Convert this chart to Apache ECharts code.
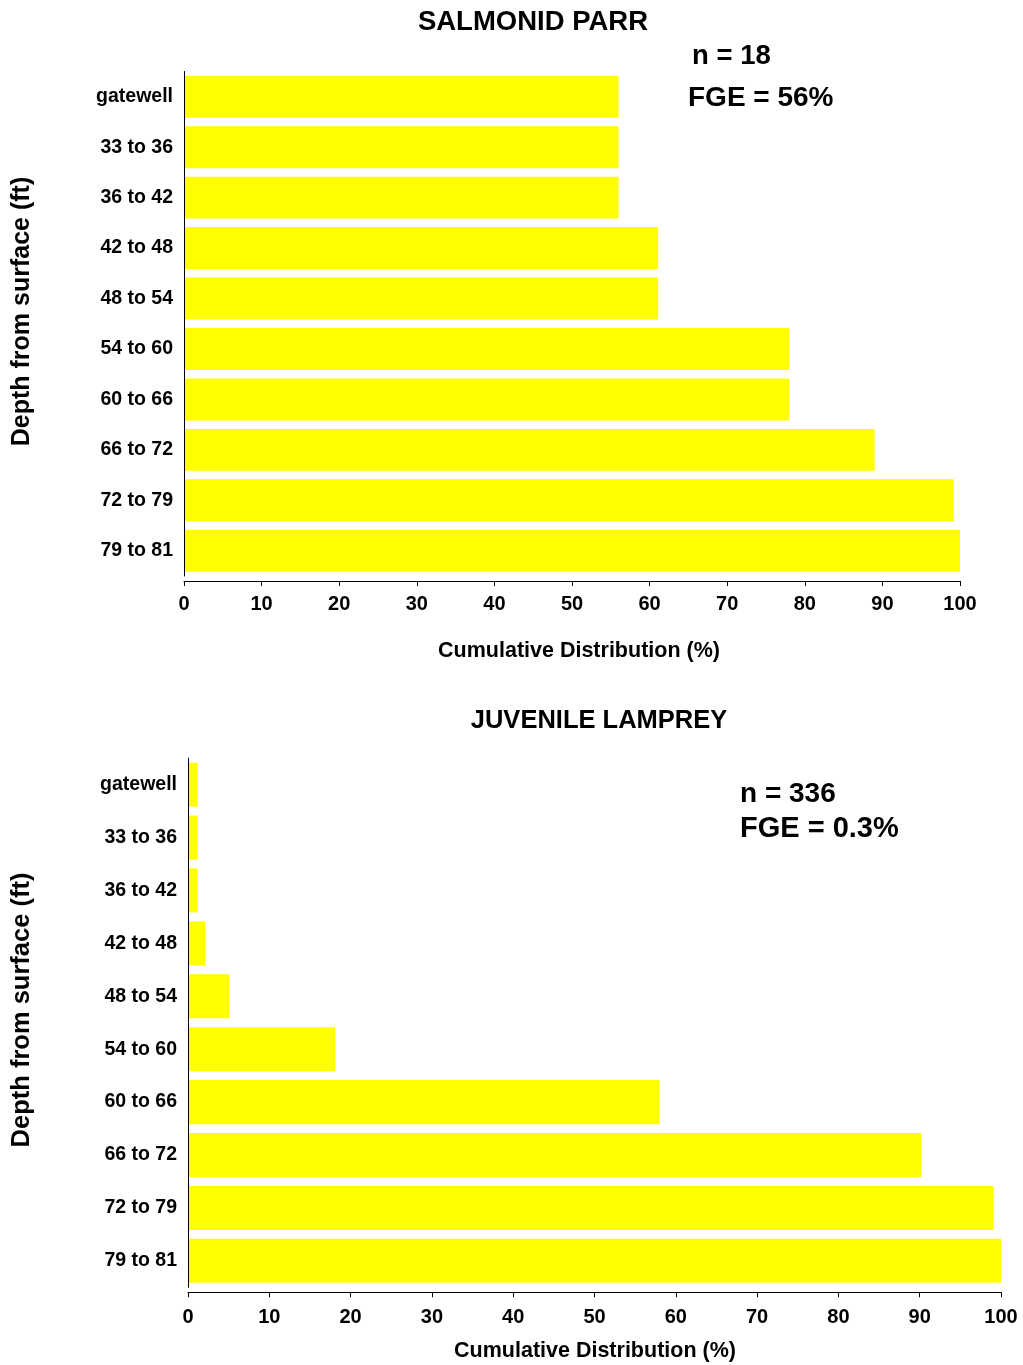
<!DOCTYPE html>
<html>
<head>
<meta charset="utf-8">
<script src="https://cdn.jsdelivr.net/npm/echarts@6/dist/echarts.min.js"></script>
<style>
  html, body { margin: 0; padding: 0; background: #ffffff; }
  #chart { width: 1023px; height: 1365px; }
</style>
</head>
<body>
<div id="chart"></div>
<script>
// Depth bins, top of the water column first
const depthBins = ['gatewell', '33 to 36', '36 to 42', '42 to 48', '48 to 54',
                   '54 to 60', '60 to 66', '66 to 72', '72 to 79', '79 to 81'];
// Cumulative distribution (%) by depth
const parrCumulative    = [56, 56, 56, 61.1, 61.1, 78, 78, 89, 99.2, 100];
const lampreyCumulative = [1.2, 1.2, 1.2, 2.1, 5.1, 18.1, 58.0, 90.2, 99.1, 100];
const xTicks = [0, 10, 20, 30, 40, 50, 60, 70, 80, 90, 100];

const FONT = 'Arial, "Liberation Sans", Helvetica, sans-serif';
const INK = '#000000';
const BAR = '#FFFF00';

function xAxisFor(gridIndex, labelMargin) {
  return {
    type: 'value', gridIndex: gridIndex, min: xTicks[0], max: xTicks[xTicks.length - 1],
    interval: xTicks[1] - xTicks[0], offset: 5, z: 3,
    axisLine: { show: true, lineStyle: { color: INK, width: 1 } },
    axisTick: { show: true, length: 5, inside: false, lineStyle: { color: INK } },
    axisLabel: { color: INK, fontFamily: FONT, fontWeight: 'bold', fontSize: 20, margin: labelMargin },
    splitLine: { show: false }
  };
}
function yAxisFor(gridIndex) {
  return {
    type: 'category', gridIndex: gridIndex, data: depthBins, inverse: true, z: 3,
    axisLine: { show: true, lineStyle: { color: INK, width: 1 } },
    axisTick: { show: false },
    axisLabel: { color: INK, fontFamily: FONT, fontWeight: 'bold', fontSize: 19.5, margin: 11 },
    splitLine: { show: false }
  };
}
function txt(x, y, s, size, align, rot) {
  return {
    type: 'text', x: x, y: y, rotation: rot || 0,
    style: { text: s, fill: INK, font: 'bold ' + size + 'px ' + FONT,
             textAlign: align || 'center', textVerticalAlign: 'middle' }
  };
}

const chart = echarts.init(document.getElementById('chart'), null, { renderer: 'canvas' });
chart.setOption({
  backgroundColor: '#ffffff',
  animation: false,
  grid: [
    { left: 184, top: 71.5, width: 776, height: 504.5 },
    { left: 188, top: 758.2, width: 813, height: 529.1 }
  ],
  xAxis: [xAxisFor(0, 13), xAxisFor(1, 15)],
  yAxis: [yAxisFor(0), yAxisFor(1)],
  series: [
    { type: 'bar', xAxisIndex: 0, yAxisIndex: 0, data: parrCumulative,
      barCategoryGap: '16.8%', itemStyle: { color: BAR } },
    { type: 'bar', xAxisIndex: 1, yAxisIndex: 1, data: lampreyCumulative,
      barCategoryGap: '16.8%', itemStyle: { color: BAR } }
  ],
  graphic: [
    txt(533, 22, 'SALMONID PARR', 27.5),
    txt(692, 56, 'n = 18', 27.5, 'left'),
    txt(688, 98, 'FGE = 56%', 28, 'left'),
    txt(579, 651, 'Cumulative Distribution (%)', 21.5),
    txt(22, 311.5, 'Depth from surface (ft)', 25, 'center', Math.PI / 2),

    txt(599, 721, 'JUVENILE LAMPREY', 25.5),
    txt(740, 794, 'n = 336', 28, 'left'),
    txt(740, 829, 'FGE = 0.3%', 29, 'left'),
    txt(595, 1351, 'Cumulative Distribution (%)', 21.5),
    txt(22, 1010, 'Depth from surface (ft)', 25.5, 'center', Math.PI / 2)
  ]
});
</script>
</body>
</html>
